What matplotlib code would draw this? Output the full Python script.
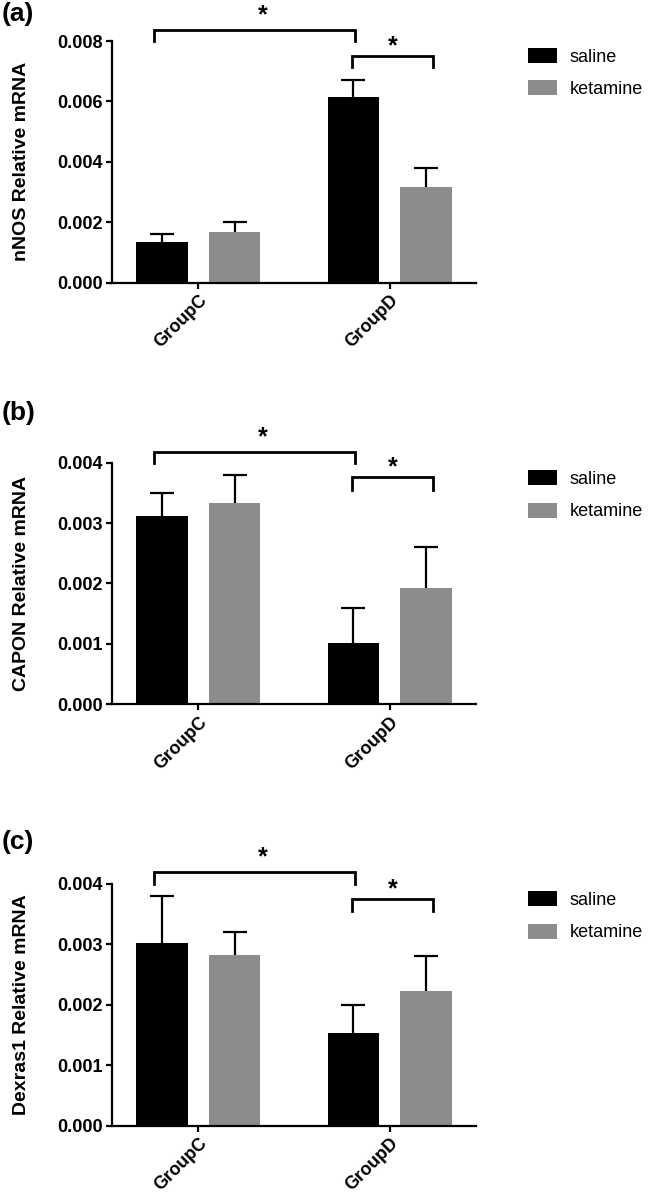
import matplotlib
matplotlib.use('Agg')
import matplotlib.pyplot as plt
from matplotlib.patches import Patch
import numpy as np

plt.rcParams['font.family'] = ['Liberation Sans', 'DejaVu Sans']

groups = ['GroupC', 'GroupD']
series = ['saline', 'ketamine']
colors = ['#000000', '#8c8c8c']

# panel data: means and upper SEM for saline / ketamine
nnos_saline = [0.00133, 0.00614]
nnos_saline_err = [0.00027, 0.00056]
nnos_ketamine = [0.00166, 0.00315]
nnos_ketamine_err = [0.00034, 0.00065]

capon_saline = [0.003125, 0.00102]
capon_saline_err = [0.000375, 0.00058]
capon_ketamine = [0.00333, 0.00193]
capon_ketamine_err = [0.00047, 0.00067]

dexras_saline = [0.00303, 0.00153]
dexras_saline_err = [0.00077, 0.00047]
dexras_ketamine = [0.00283, 0.00223]
dexras_ketamine_err = [0.00037, 0.00057]

ylabels = ['nNOS Relative mRNA', 'CAPON Relative mRNA', 'Dexras1 Relative mRNA']
panel_tags = ['(a)', '(b)', '(c)']
ymax = [0.008, 0.004, 0.004]
yticks_step = [0.002, 0.001, 0.001]

# significance brackets: (top, drop) for the big and the small bracket
big_bracket = [(0.00837, 0.0080), (0.00418, 0.0040), (0.0042, 0.0040)]
small_bracket = [(0.0075, 0.00714), (0.00376, 0.00355), (0.00375, 0.00355)]

panels = [
    (nnos_saline, nnos_saline_err, nnos_ketamine, nnos_ketamine_err),
    (capon_saline, capon_saline_err, capon_ketamine, capon_ketamine_err),
    (dexras_saline, dexras_saline_err, dexras_ketamine, dexras_ketamine_err),
]

W, H = 650, 1196
fig = plt.figure(figsize=(W / 100, H / 100), dpi=100)

ax_tops = [41, 462.7, 884]       # pixel top of each plotting area
ax_h = 241.5
legend_centers = [73.25, 495.3, 916.3]
tag_centers = [14, 413, 842]

x = np.arange(len(groups))
offset = 0.19
width = 0.27
cap = 0.063


def upper_err(ax, xs, means, errs):
    tops = np.array(means) + np.array(errs)
    ax.vlines(xs, means, tops, color='black', lw=1.6, zorder=1)
    ax.hlines(tops, xs - cap, xs + cap, color='black', lw=1.6, zorder=1)


for i, (sal, sal_err, ket, ket_err) in enumerate(panels):
    ax = fig.add_axes([112 / W, 1 - (ax_tops[i] + ax_h) / H, 364 / W, ax_h / H])

    ax.bar(x - offset, sal, width, color=colors[0], zorder=2)
    ax.bar(x + offset, ket, width, color=colors[1], zorder=2)
    upper_err(ax, x - offset, sal, sal_err)
    upper_err(ax, x + offset, ket, ket_err)

    ax.set_xlim(-0.45, 1.45)
    ax.set_ylim(0, ymax[i])
    ax.set_yticks(np.arange(0, ymax[i] + 1e-9, yticks_step[i]))
    ax.yaxis.set_major_formatter(matplotlib.ticker.FormatStrFormatter('%.3f'))
    ax.set_xticks(x)
    ax.set_xticklabels(groups, rotation=45, ha='right', rotation_mode='anchor')
    for lab in ax.get_xticklabels() + ax.get_yticklabels():
        lab.set_fontweight('bold')
        lab.set_fontsize(13)
    ax.tick_params(width=1.6, length=4.5, pad=2)

    for side in ['top', 'right']:
        ax.spines[side].set_visible(False)
    for side in ['left', 'bottom']:
        ax.spines[side].set_linewidth(1.6)

    ax.set_ylabel(ylabels[i], fontsize=14, fontweight='bold')
    ax.yaxis.set_label_coords(-0.2253, 0.5)

    # brackets
    top, drop = big_bracket[i]
    ax.plot([-0.229, -0.229, 0.818, 0.818], [drop, top, top, drop],
            color='black', lw=2, clip_on=False, solid_joinstyle='miter')
    ax.annotate('*', xy=(0.339, top), xytext=(0, 5.5), textcoords='offset points',
                ha='center', va='baseline', fontsize=18, fontweight='bold',
                annotation_clip=False)
    top, drop = small_bracket[i]
    ax.plot([0.803, 0.803, 1.225, 1.225], [drop, top, top, drop],
            color='black', lw=2, clip_on=False, solid_joinstyle='miter')
    ax.annotate('*', xy=(1.014, top), xytext=(0, 2), textcoords='offset points',
                ha='center', va='baseline', fontsize=18, fontweight='bold',
                annotation_clip=False)

    handles = [Patch(facecolor=c, edgecolor='none') for c in colors]
    ax.legend(handles, series, loc='center left',
              bbox_to_anchor=(528 / W, 1 - legend_centers[i] / H),
              bbox_transform=fig.transFigure, frameon=False, fontsize=13,
              handlelength=1.6, handleheight=0.9, handletextpad=0.7,
              labelspacing=0.8, borderpad=0, borderaxespad=0)

    fig.text(2 / W, 1 - tag_centers[i] / H, panel_tags[i], ha='left', va='center',
             fontsize=19, fontweight='bold')

fig.savefig('out.png', dpi=100)
